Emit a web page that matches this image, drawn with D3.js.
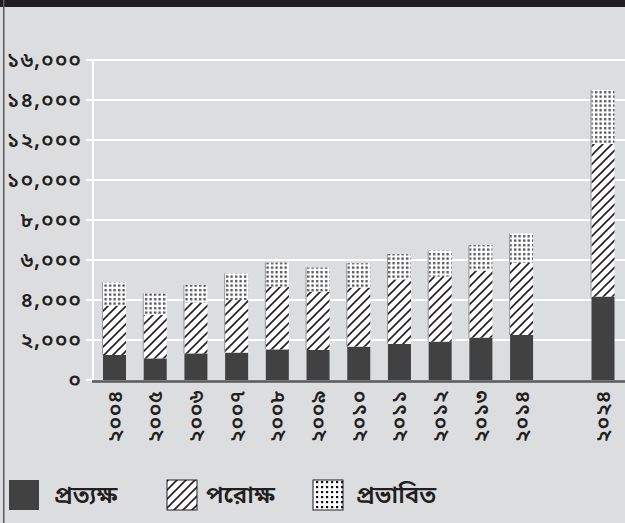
<!DOCTYPE html>
<html>
<head>
<meta charset="utf-8">
<script src="https://cdn.jsdelivr.net/npm/d3@7"></script>
<style>
  body { margin: 0; background: #dcdddf; }
  svg { display: block; }
  text { font-family: "Noto Sans Bengali", "Noto Serif Bengali", "Lohit Bengali", "FreeSerif", serif; }
</style>
</head>
<body>
<svg width="625" height="523"></svg>
<script>
// years along the bottom (blank slot between 2014 and 2024)
var years = ["২০০৪", "২০০৫", "২০০৬", "২০০৭", "২০০৮", "২০০৯", "২০১০", "২০১১", "২০১২", "২০১৩", "২০১৪", "", "২০২৪"];

// stacked series values
var direct   = [1250, 1080, 1330, 1370, 1530, 1500, 1670, 1800, 1920, 2120, 2250, null, 4170];
var indirect = [2470, 2170, 2540, 2630, 3140, 2920, 2950, 3230, 3250, 3350, 3620, null, 7630];
var induced  = [1180, 1080, 880, 1330, 1200, 1200, 1220, 1270, 1300, 1280, 1460, null, 2700];

var yTicks = [0, 2000, 4000, 6000, 8000, 10000, 12000, 14000, 16000];
var legendLabels = ["প্রত্যক্ষ", "পরোক্ষ", "প্রভাবিত"];

var bnDigits = "০১২৩৪৫৬৭৮৯";
function toBn(n) {
  return d3.format(",")(n).replace(/[0-9]/g, function(c) { return bnDigits[+c]; });
}

var svg = d3.select("svg");

svg.append("rect").attr("width", 625).attr("height", 523).attr("fill", "#dcdddf");
svg.append("rect").attr("width", 625).attr("height", 7).attr("fill", "#231f20");
svg.append("rect").attr("x", 3).attr("y", 0).attr("width", 1.5).attr("height", 523).attr("fill", "#5a5a5c");

// patterns
var defs = svg.append("defs");
var hatch = defs.append("pattern").attr("id", "hatch")
  .attr("patternUnits", "userSpaceOnUse").attr("width", 9).attr("height", 9);
hatch.append("rect").attr("width", 9).attr("height", 9).attr("fill", "#fff");
hatch.append("path").attr("d", "M-1,10 L10,-1 M-3,3 L3,-3 M6,12 L12,6")
  .attr("stroke", "#231f20").attr("stroke-width", 1.6);

var dots = defs.append("pattern").attr("id", "dots")
  .attr("patternUnits", "userSpaceOnUse").attr("width", 4.5).attr("height", 4.5);
dots.append("rect").attr("width", 4.5).attr("height", 4.5).attr("fill", "#fff");
dots.append("rect").attr("x", 1).attr("y", 1).attr("width", 2.3).attr("height", 2.3).attr("fill", "#4a4a4c");

var dots2 = defs.append("pattern").attr("id", "dots2")
  .attr("patternUnits", "userSpaceOnUse").attr("width", 5).attr("height", 5);
dots2.append("rect").attr("width", 5).attr("height", 5).attr("fill", "#fff");
dots2.append("rect").attr("x", 1).attr("y", 1).attr("width", 2.2).attr("height", 2.2).attr("fill", "#111");

// scales
var x = d3.scalePoint().domain(d3.range(years.length)).range([114.5, 603]);
var y = d3.scaleLinear().domain([0, 16000]).range([380, 60]);
var barW = 23;

// grid
svg.append("g").selectAll("line").data(yTicks.slice(1)).enter().append("line")
  .attr("x1", 86).attr("x2", 625)
  .attr("y1", function(d) { return y(d); }).attr("y2", function(d) { return y(d); })
  .attr("stroke", "#fff").attr("stroke-width", 2);
svg.append("line").attr("x1", 86).attr("x2", 93).attr("y1", y(0)).attr("y2", y(0))
  .attr("stroke", "#fff").attr("stroke-width", 2);
svg.append("line").attr("x1", 93).attr("x2", 93).attr("y1", y(16000) - 1).attr("y2", y(0))
  .attr("stroke", "#fff").attr("stroke-width", 2);

// y labels
svg.append("g").selectAll("text").data(yTicks).enter().append("text")
  .attr("x", 82).attr("y", function(d) { return y(d); })
  .attr("dy", "0.35em").attr("text-anchor", "end")
  .attr("font-size", 21).attr("font-weight", 600).attr("letter-spacing", 1)
  .attr("fill", "#231f20")
  .text(function(d) { return toBn(d); });

// bars
var stacks = [
  { vals: direct, fill: "#414142" },
  { vals: indirect, fill: "url(#hatch)" },
  { vals: induced, fill: "url(#dots)" }
];
years.forEach(function(yr, i) {
  if (direct[i] == null) return;
  var base = 0;
  stacks.forEach(function(s) {
    var v = s.vals[i];
    svg.append("rect")
      .attr("x", x(i) - barW / 2).attr("width", barW)
      .attr("y", y(base + v)).attr("height", y(base) - y(base + v))
      .attr("fill", s.fill);
    base += v;
  });
  svg.append("line")
    .attr("x1", x(i) - barW / 2 - 0.5).attr("x2", x(i) - barW / 2 - 0.5)
    .attr("y1", y(base)).attr("y2", y(direct[i]))
    .attr("stroke", "#9a9a9c").attr("stroke-width", 1);
});

// baseline
svg.append("line").attr("x1", 92).attr("x2", 625).attr("y1", 381.5).attr("y2", 381.5)
  .attr("stroke", "#58595b").attr("stroke-width", 2.5);

// x labels
svg.append("g").selectAll("text").data(years).enter().append("text")
  .attr("transform", function(d, i) { return "translate(" + (x(i) + 7) + ",390) rotate(-90)"; })
  .attr("text-anchor", "end")
  .attr("font-size", 21).attr("font-weight", 600).attr("letter-spacing", 0.5)
  .attr("fill", "#231f20")
  .text(function(d) { return d; });

// legend
var lg = svg.append("g");
var swX = [9, 167, 313];
var txtX = [54, 206, 356];
var swFill = ["#414142", "url(#hatch)", "url(#dots2)"];
legendLabels.forEach(function(l, i) {
  lg.append("rect").attr("x", swX[i]).attr("y", 480).attr("width", 30).attr("height", 30)
    .attr("fill", swFill[i]).attr("stroke", i ? "#231f20" : "none").attr("stroke-width", 1);
  lg.append("text").attr("x", txtX[i]).attr("y", 503)
    .attr("font-size", 24).attr("font-weight", 600).attr("fill", "#231f20").text(l);
});
</script>
</body>
</html>
